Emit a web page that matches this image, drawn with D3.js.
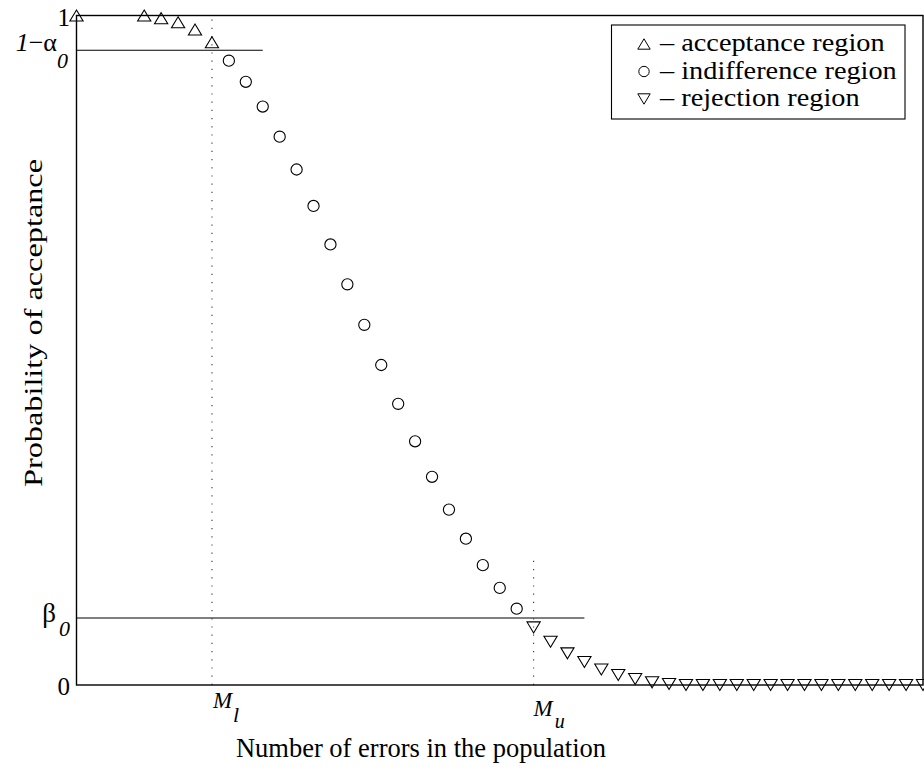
<!DOCTYPE html>
<html>
<head>
<meta charset="utf-8">
<script src="https://cdn.jsdelivr.net/npm/d3@7"></script>
<style>
  html, body { margin: 0; padding: 0; background: #fff; }
  svg { display: block; }
  text { font-family: "Liberation Serif", "Times New Roman", serif; fill: #000; }
</style>
</head>
<body>
<script>
// ---- data ----
const acceptX = [0, 4, 5, 6, 7, 8];
const acceptP = [1.000, 1.000, 0.996, 0.990, 0.979, 0.960];

const indiffX = [9, 10, 11, 12, 13, 14, 15, 16, 17, 18, 19, 20, 21, 22, 23, 24, 25, 26];
const indiffP = [0.9325, 0.901, 0.864, 0.819, 0.770, 0.7155, 0.658, 0.5985, 0.538,
                 0.478, 0.420, 0.364, 0.311, 0.262, 0.2185, 0.179, 0.145, 0.114];

const rejectX = [27, 28, 29, 30, 31, 32, 33, 34, 35, 36, 37, 38, 39, 40, 41, 42, 43, 44, 45, 46, 47, 48, 49, 50];
const rejectP = [0.086, 0.0647, 0.0473, 0.0344, 0.0232, 0.0149, 0.009, 0.004, 0.0015,
                 0, 0, 0, 0, 0, 0, 0, 0, 0, 0, 0, 0, 0, 0, 0];

const alpha0 = 0.052;      // 1 - alpha0 ≈ 0.948
const beta0 = 0.10;
const Ml = 8;
const Mu = 27;
const xDomain = [0, 50];

const legendLabels = ["– acceptance region", "– indifference region", "– rejection region"];
const xLabel = "Number of errors in the population";
const yLabel = "Probability of acceptance";

// ---- layout ----
const W = 924, H = 773;
const svg = d3.select("body").append("svg").attr("width", W).attr("height", H);

const x = d3.scaleLinear().domain(xDomain).range([76.5, 923]);
const y = d3.scaleLinear().domain([0, 1]).range([685, 15.5]);

// reference lines
svg.append("line")
  .attr("x1", x(0)).attr("x2", x(Ml + 3))
  .attr("y1", y(1 - alpha0)).attr("y2", y(1 - alpha0))
  .attr("stroke", "#000").attr("stroke-width", 1.1);
svg.append("line")
  .attr("x1", x(0)).attr("x2", x(Mu + 3))
  .attr("y1", y(beta0)).attr("y2", y(beta0))
  .attr("stroke", "#000").attr("stroke-width", 1.1);

// dotted verticals
svg.append("line")
  .attr("x1", x(Ml)).attr("x2", x(Ml))
  .attr("y1", y(0)).attr("y2", y(1))
  .attr("stroke", "#333").attr("stroke-width", 1.1)
  .attr("stroke-dasharray", "1.2,7");
svg.append("line")
  .attr("x1", x(Mu)).attr("x2", x(Mu))
  .attr("y1", y(0)).attr("y2", y(2 * beta0 - 0.005))
  .attr("stroke", "#333").attr("stroke-width", 1.1)
  .attr("stroke-dasharray", "1.2,7");

// axes box
svg.append("rect")
  .attr("x", x(0)).attr("y", y(1))
  .attr("width", x(50) - x(0)).attr("height", y(0) - y(1))
  .attr("fill", "none").attr("stroke", "#000").attr("stroke-width", 1.4);

// markers
const upTri = "M0,-5.5L6.6,5.5L-6.6,5.5Z";
const downTri = "M0,5.5L6.6,-5.5L-6.6,-5.5Z";

svg.append("g").selectAll("path")
  .data(acceptX.map((d, i) => [d, acceptP[i]]))
  .join("path")
  .attr("d", upTri)
  .attr("transform", d => `translate(${x(d[0])},${y(d[1])})`)
  .attr("fill", "none").attr("stroke", "#000").attr("stroke-width", 1.1);

svg.append("g").selectAll("circle")
  .data(indiffX.map((d, i) => [d, indiffP[i]]))
  .join("circle")
  .attr("cx", d => x(d[0])).attr("cy", d => y(d[1])).attr("r", 5.6)
  .attr("fill", "none").attr("stroke", "#000").attr("stroke-width", 1.1);

svg.append("g").selectAll("path")
  .data(rejectX.map((d, i) => [d, rejectP[i]]))
  .join("path")
  .attr("d", downTri)
  .attr("transform", d => `translate(${x(d[0])},${y(d[1])})`)
  .attr("fill", "none").attr("stroke", "#000").attr("stroke-width", 1.1);

// y tick labels
const tl = svg.append("g");
tl.append("text").attr("x", 70).attr("y", y(1) + 10.5)
  .attr("text-anchor", "end").attr("font-size", 25).text("1");
tl.append("text").attr("x", 70).attr("y", y(0) + 10)
  .attr("text-anchor", "end").attr("font-size", 25).text("0");

const ta = tl.append("text").attr("x", 68).attr("y", y(1 - alpha0) + 1)
  .attr("text-anchor", "end").attr("font-size", 26);
ta.append("tspan").attr("font-style", "italic").text("1");
ta.append("tspan").text("−α");
ta.append("tspan").attr("font-style", "italic").attr("font-size", 22).attr("dy", 17).text("0");

const tb = tl.append("text").attr("x", 70).attr("y", y(beta0) + 4)
  .attr("text-anchor", "end").attr("font-size", 27);
tb.append("tspan").text("β");
tb.append("tspan").attr("font-style", "italic").attr("font-size", 22).attr("dy", 14).attr("dx", 3).text("0");

// x tick labels
const ml = svg.append("text").attr("x", x(Ml) + 1).attr("y", 708)
  .attr("font-size", 23).attr("font-style", "italic");
ml.append("tspan").text("M");
ml.append("tspan").attr("font-size", 22).attr("dy", 14).attr("dx", 1).text("l");

const mu = svg.append("text").attr("x", x(Mu)).attr("y", 716)
  .attr("font-size", 23).attr("font-style", "italic");
mu.append("tspan").text("M");
mu.append("tspan").attr("font-size", 20).attr("dy", 11.5).attr("dx", 2).text("u");

// axis labels
svg.append("text").attr("x", 421).attr("y", 757)
  .attr("text-anchor", "middle").attr("font-size", 26.5).text(xLabel);

svg.append("text")
  .attr("transform", "translate(42,323) rotate(-90)")
  .attr("text-anchor", "middle").attr("font-size", 26)
  .attr("textLength", 328).attr("lengthAdjust", "spacingAndGlyphs")
  .text(yLabel);

// legend
const lg = svg.append("g");
lg.append("rect").attr("x", 611.5).attr("y", 25).attr("width", 293.5).attr("height", 94)
  .attr("fill", "#fff").attr("stroke", "#000").attr("stroke-width", 1.1);
const legendShapes = ["up", "circle", "down"];
const rowY = [44, 71.5, 99];
legendShapes.forEach((s, i) => {
  const cy = rowY[i];
  if (s === "circle") {
    lg.append("circle").attr("cx", 644).attr("cy", cy).attr("r", 5.2)
      .attr("fill", "none").attr("stroke", "#000").attr("stroke-width", 1);
  } else {
    lg.append("path").attr("d", s === "up" ? "M0,-5.2L6.2,5.2L-6.2,5.2Z" : "M0,5.2L6.2,-5.2L-6.2,-5.2Z")
      .attr("transform", `translate(644,${cy})`)
      .attr("fill", "none").attr("stroke", "#000").attr("stroke-width", 1);
  }
  const t = lg.append("text").attr("x", 660).attr("y", cy + 7)
    .attr("font-size", 28.3).text(legendLabels[i]);
  const len = t.node().getComputedTextLength();
  t.attr("font-size", 24.5).attr("textLength", len).attr("lengthAdjust", "spacingAndGlyphs");
});
</script>
</body>
</html>
